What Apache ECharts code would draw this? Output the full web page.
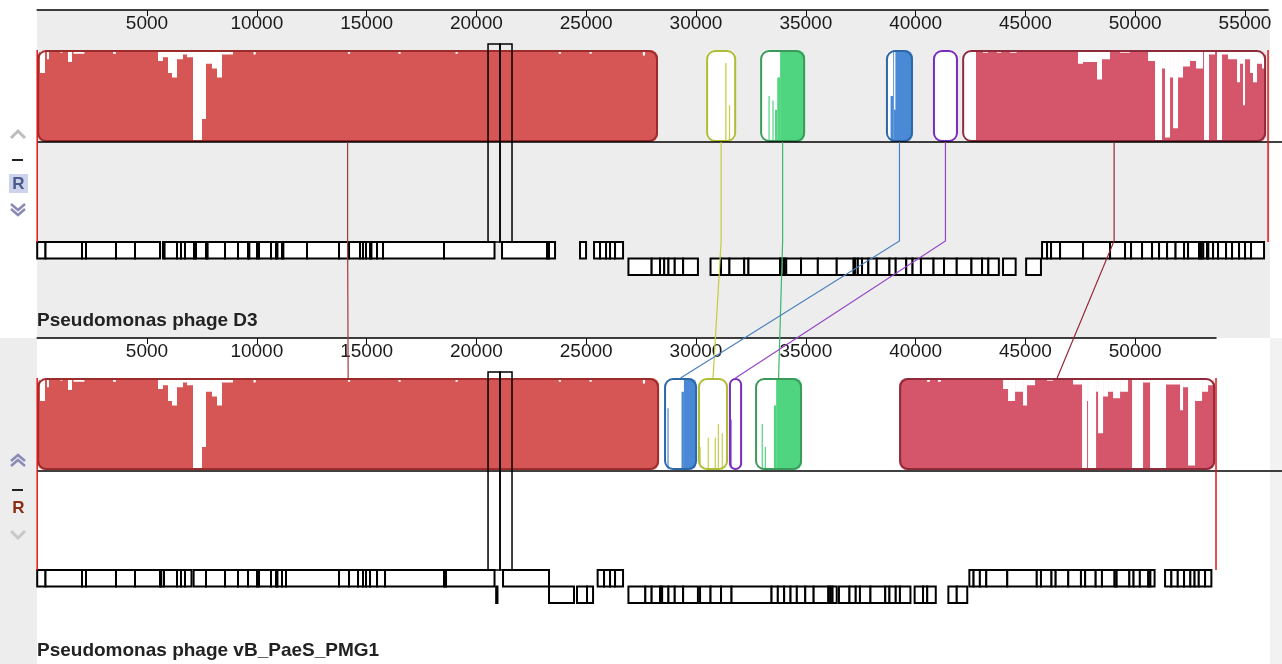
<!DOCTYPE html>
<html><head><meta charset="utf-8">
<script src="https://cdn.jsdelivr.net/npm/echarts@6/dist/echarts.min.js"></script>
<style>html,body{margin:0;padding:0;background:#fff}#c{width:1282px;height:664px}</style>
</head><body><div id="c"></div>
<script>
// ---------------- DATA ----------------
const genomeNames = ['Pseudomonas phage D3', 'Pseudomonas phage vB_PaeS_PMG1'];
const genomeLengths = [56050, 53680];
const tickLabelsTop = [5000,10000,15000,20000,25000,30000,35000,40000,45000,50000,55000];
const tickLabelsBottom = [5000,10000,15000,20000,25000,30000,35000,40000,45000,50000];

// LCB order: red, yellow, green, blue, purple, pink  ([start, end] in bp)
const lcbTop    = [[0,28270],[30460,31830],[32920,34970],[38650,39880],[40790,41930],[42120,55960]];
const lcbBottom = [[0,28320],[30090,31460],[32690,34830],[28545,30050],[31500,32100],[39250,53640]];

// similarity profile: coloured segments [from, to, level]
const redTopFill     = [[0,28270,1]];
const yellowTopFill  = [[31330,31390,0.86],[31500,31550,0.4]];
const greenTopFill   = [[33300,33350,0.5],[33480,33530,0.45],[33600,33700,0.35],[33700,33830,0.7],[33830,34970,1]];
const blueTopFill    = [[38860,38980,0.5],[38980,39880,1]];
const purpleTopFill  = [];
const pinkTopFill    = [[42750,55960,1]];
const redBotFill     = [[0,28320,1]];
const yellowBotFill  = [[30160,30200,0.25],[30530,30570,0.35],[30850,30890,0.35],[30990,31030,0.5],[31170,31210,0.4]];
const greenBotFill   = [[32990,33040,0.5],[33130,33170,0.25],[33550,33650,0.7],[33650,34830,1]];
const blueBotFill    = [[28700,28750,0.67],[29340,29450,0.85],[29450,30000,1]];
const purpleBotFill  = [[31570,31620,0.55]];
const pinkBotFill    = [[39250,53640,1]];

// white dips from the top: [from, to, depth]
const redNotches = [
 [128,355,0.25],[446,537,0.1],[1050,1150,0.03],[1403,1585,0.13],[1650,2150,0.04],[3452,3588,0.04],
 [5501,5729,0.12],[5729,5957,0.08],[5957,6139,0.25],[6139,6366,0.3],[6366,6640,0.1],[6640,6822,0.05],[6822,7095,0.08],
 [7095,7505,1.0],[7505,7687,0.75],[7687,7960,0.15],[7960,8188,0.2],[8188,8416,0.3],[8416,8917,0.05],
 [9850,9950,0.05],[14150,14250,0.04],[16450,16550,0.04],[19050,19150,0.04],[23750,23850,0.04],[25150,25250,0.04],[27580,27680,0.06]
];
const blueTopNotches = [[39020,39080,0.65]];
const pinkTopNotches = [
 [43070,43300,0.03],[43700,43900,0.03],[44300,44600,0.03],
 [47396,47624,0.15],[47624,48262,0.13],[48262,48489,0.32],[48489,48854,0.1],[49309,49765,0.03],
 [50584,50903,0.12],[50903,51222,1.0],[51222,51359,0.2],[51359,51586,0.95],[51586,51723,0.3],[51723,51951,0.85],
 [51951,52178,0.3],[52178,52497,0.18],[52497,52770,0.12],[52770,53089,0.2],[53135,53362,1.0],[53362,53635,0.05],
 [53726,53954,1.0],[53954,54227,0.05],[54227,54637,0.1],[54637,54774,0.35],[54774,54910,0.15],[54910,55001,0.6],
 [55001,55229,0.1],[55229,55365,0.25],[55365,55548,0.35],[55548,55775,0.15],[55775,55912,0.2]
];
const pinkBotNotches = [
 [40521,40650,0.04],[41022,41150,0.04],
 [43983,44210,0.12],[44210,44529,0.25],[44529,44893,0.15],[44893,45075,0.3],[45075,45440,0.08],[45986,46260,0.03],
 [47170,47580,0.07],[47580,47808,1.0],[47808,47853,0.25],[47853,48218,1.0],[48218,48309,0.15],[48309,48537,0.6],
 [48537,48764,0.2],[48764,48992,0.15],[48992,49311,0.22],[49311,49675,0.15],[49857,50358,1.0],[50358,50677,0.05],
 [50677,51405,1.0],[51405,52043,0.07],[52043,52180,0.35],[52180,52407,0.1],[52407,52726,0.95],[52726,53045,0.25],
 [53045,53318,0.15],[53318,53550,0.08]
];

// gene annotation runs (adjacent boxes share boundaries), bp
const genesTopFwd = [
 [0,378,2040,2222,3588,4454,5592],
 [5729,5800,6366,6548,6730,7140,7231,7687,7760,8553,9144,9600,9660,10010,10101,10647,10875,10940,11148,11210,12287,13744,14200,14701,14837,14974,15156,15220,15475,15748,18526,20825],
 [21167,23216,23307,23581],
 [24719,24993],
 [25357,25630,25904,26086,26314,26678],
 [45758,45986,46168,46578,47625,48855,49538,49811,50312,50767,51086,51451,51838,52225,52407,52908,52960,52999,53100,53272,53330,53546,53773,54137,54410,54729,55002,55275,55867]
];
const genesTopRev = [
 [26923,27980,28362,28553,28745,29032,29414,30088],
 [30662,31140,31522,32196,32388,33827,33900,34009,34109,34783,35548,36409,37178,37250,37370,37561,37848,38230,38809,39095,39574,39861,40243,40817,41295,41874,42543,43026,43313,43791],
 [43982,44556],
 [45034,45708]
];
const genesBotFwd = [
 [0,378,2040,2222,3588,4454,5592,5650,5775,6366,6548,6730,7027],
 [7123,7687,8553,9144,9600,10010,10101,10647,10875,10940,11148,11330,13744,14200,14610,14837,14974,15156,15475,15840,18526,18617,20825],
 [21213,23307],
 [25521,25813,26086,26314,26678],
 [42448,42640,42927,43218,44174,45518,45709,46187,46378,46952,47530,47721,48200,48486,49060,49156,49734,49925,50212,50595,50691,50882],
 [51360,51647,51939,52225,52512,52704,52895,53182,53469]
];
const genesBotRev = [
 [20900,20960],
 [23307,24445],
 [24582,25038,25312],
 [26923,27693,27980,28362,28458,28745,29032,29414,30088],
 [30184,30662,31140,31618,33440,33727,34014,34305,34592,34975,35357,36027,36123,36218,36409],
 [36510,36988,37274,37466,37944,38618,38809,39096,39287,39765],
 [39956,40339,40530,40918],
 [41492,41874,42352]
];
const highlightTop = [[20530,21076],[21076,21622]];
const highlightBottom = [[20530,21076],[21076,21622]];

// ---------------- STYLE / LAYOUT ----------------
const LCB_COLORS = [
 {fill:'#d65656', stroke:'#9c2b2b', line:'#a33a3a'},
 {fill:'#c6cf4a', stroke:'#aebd34', line:'#c4cd3c'},
 {fill:'#4fd47f', stroke:'#3a9a5a', line:'#3fb56c'},
 {fill:'#4a89d5', stroke:'#2e67a6', line:'#4a7fbf'},
 {fill:'#9050d0', stroke:'#7a2cbd', line:'#9446c6'},
 {fill:'#d5556b', stroke:'#8e2b3b', line:'#962838'}
];
const FILLS = [[redTopFill,yellowTopFill,greenTopFill,blueTopFill,purpleTopFill,pinkTopFill],
               [redBotFill,yellowBotFill,greenBotFill,blueBotFill,purpleBotFill,pinkBotFill]];
const NOTCHES = [[redNotches,[],[],blueTopNotches,[],pinkTopNotches],
                 [redNotches,[],[],[],[],pinkBotNotches]];
const PXBP = 0.02196, LEFT = 37.2;
const BLOCK_TOP = [50, 378], BLOCK_H = 92;
const FONT = "'Liberation Sans', Arial, sans-serif";

function blockRender(g){
  return function(params, api){
    const s = api.value(0), e = api.value(1), i = api.value(2);
    const p0 = api.coord([s,1]), p1 = api.coord([e,0]);
    const x0 = p0[0], y0 = p0[1], w = p1[0]-x0, h = p1[1]-y0;
    const col = LCB_COLORS[i];
    const inner = [{type:'rect', shape:{x:x0,y:y0,width:w,height:h}, style:{fill:'#ffffff'}}];
    FILLS[g][i].forEach(f => {
      const a = api.coord([f[0], f[2]]), b = api.coord([f[1], 0]);
      inner.push({type:'rect', shape:{x:a[0], y:a[1], width:Math.max(b[0]-a[0],1.2), height:b[1]-a[1]}, style:{fill:col.fill}});
    });
    NOTCHES[g][i].forEach(n => {
      const a = api.coord([n[0], 1]), b = api.coord([n[1], 1-n[2]]);
      inner.push({type:'rect', shape:{x:a[0], y:a[1], width:Math.max(b[0]-a[0],1.2), height:b[1]-a[1]}, style:{fill:'#ffffff'}});
    });
    return {type:'group', children:[
      {type:'group', children: inner, clipPath:{type:'rect', shape:{x:x0, y:y0, width:w, height:h, r:8}}},
      {type:'rect', shape:{x:x0+1, y:y0+1, width:w-2, height:h-2, r:8}, style:{fill:'none', stroke:col.stroke, lineWidth:2}}
    ]};
  };
}
function geneRender(params, api){
  const s = api.value(0), e = api.value(1), strand = api.value(2);
  const a = api.coord([s,0]), b = api.coord([e,0]);
  const y = a[1] + 100 + strand*16.5;
  return {type:'rect', shape:{x:a[0], y:y, width:Math.max(b[0]-a[0],1), height:16.5},
          style:{fill:'#ffffff', stroke:'#000', lineWidth:2}};
}
function markRender(params, api){
  const s = api.value(0), e = api.value(1);
  const a = api.coord([s,1]), b = api.coord([e,0]);
  return {type:'rect', shape:{x:a[0], y:a[1]-6, width:b[0]-a[0], height:(b[1]-a[1])+106},
          style:{fill:'none', stroke:'#000', lineWidth:1.5}};
}
function endRender(params, api){
  const v = api.value(0);
  const a = api.coord([v,1]), b = api.coord([v,0]);
  return {type:'line', shape:{x1:a[0], y1:a[1], x2:a[0], y2:b[1]+100}, style:{stroke:'#e01818', lineWidth:1.5}};
}
function flatten(runs, strand){
  const out = [];
  runs.forEach(r => { for (let k=0;k<r.length-1;k++) out.push([r[k], r[k+1], strand]); });
  return out;
}

const chart = echarts.init(document.getElementById('c'), null, {renderer:'canvas'});

function xAxisCfg(g, ticks){
  return {gridIndex:g, type:'value', min:0, max:genomeLengths[g], position:'top', offset:40,
    axisLine:{show:true, onZero:false, lineStyle:{color:'#000', width:1.5}},
    axisTick:{show:true, inside:true, length:6, customValues:ticks, lineStyle:{color:'#000', width:1}},
    axisLabel:{show:true, inside:true, margin:4, customValues:ticks, color:'#1a1a1a', fontSize:19, fontFamily:FONT,
               formatter: v => String(v)},
    splitLine:{show:false}};
}

function baseGraphics(){
  const G = [];
  G.push({type:'rect', id:'bgTop', z:-10, shape:{x:37, y:10, width:1233, height:328}, style:{fill:'#ededed'}});
  G.push({type:'rect', id:'bgLeftBot', z:-10, shape:{x:0, y:338, width:37, height:326}, style:{fill:'#ededed'}});
  G.push({type:'rect', id:'bgRightBot', z:-10, shape:{x:1270, y:338, width:12, height:326}, style:{fill:'#f2f2f2'}});
  G.push({type:'line', id:'cTop', z:5, shape:{x1:37, y1:142, x2:1282, y2:142}, style:{stroke:'#000', lineWidth:1.5}});
  G.push({type:'line', id:'cBot', z:5, shape:{x1:37, y1:471, x2:1282, y2:471}, style:{stroke:'#000', lineWidth:1.5}});
  G.push({type:'text', id:'n0', z:5, style:{x:37, y:321, text:genomeNames[0], font:"bold 19px 'Liberation Sans', Arial", fill:'#222', verticalAlign:'middle'}});
  G.push({type:'text', id:'n1', z:5, style:{x:37, y:651, text:genomeNames[1], font:"bold 19px 'Liberation Sans', Arial", fill:'#222', verticalAlign:'middle'}});
  // left controls, top panel
  G.push({type:'polyline', id:'tu', shape:{points:[[11,138],[18,131],[25,138]]}, style:{stroke:'#bdbdbd', lineWidth:3, fill:'none'}});
  G.push({type:'line', id:'tm', shape:{x1:12, y1:160, x2:23, y2:160}, style:{stroke:'#222', lineWidth:2}});
  G.push({type:'rect', id:'trb', shape:{x:9, y:174, width:19, height:19}, style:{fill:'#cdd3ea'}});
  G.push({type:'text', id:'tr', style:{x:18.5, y:184, text:'R', font:"bold 17px 'Liberation Sans', Arial", fill:'#4b5b8d', align:'center', verticalAlign:'middle'}});
  G.push({type:'polyline', id:'td1', shape:{points:[[11,204],[18,210],[25,204]]}, style:{stroke:'#8a8ab6', lineWidth:2.5, fill:'none'}});
  G.push({type:'polyline', id:'td2', shape:{points:[[11,209],[18,215],[25,209]]}, style:{stroke:'#8a8ab6', lineWidth:2.5, fill:'none'}});
  // left controls, bottom panel
  G.push({type:'polyline', id:'bu1', shape:{points:[[11,461],[18,455],[25,461]]}, style:{stroke:'#8a8ab6', lineWidth:2.5, fill:'none'}});
  G.push({type:'polyline', id:'bu2', shape:{points:[[11,466],[18,460],[25,466]]}, style:{stroke:'#8a8ab6', lineWidth:2.5, fill:'none'}});
  G.push({type:'line', id:'bm', shape:{x1:12, y1:490, x2:23, y2:490}, style:{stroke:'#222', lineWidth:2}});
  G.push({type:'text', id:'br', style:{x:18.5, y:508, text:'R', font:"bold 17px 'Liberation Sans', Arial", fill:'#8c2e12', align:'center', verticalAlign:'middle'}});
  G.push({type:'polyline', id:'bd', shape:{points:[[11,531],[18,538],[25,531]]}, style:{stroke:'#c8c8c8', lineWidth:3, fill:'none'}});
  return G;
}

const option = {
  animation:false,
  backgroundColor:'#ffffff',
  grid:[
    {left:LEFT, top:BLOCK_TOP[0], width:genomeLengths[0]*PXBP, height:BLOCK_H},
    {left:LEFT, top:BLOCK_TOP[1], width:genomeLengths[1]*PXBP, height:BLOCK_H}
  ],
  xAxis:[xAxisCfg(0, tickLabelsTop), xAxisCfg(1, tickLabelsBottom)],
  yAxis:[{gridIndex:0, type:'value', min:0, max:1, show:false},
         {gridIndex:1, type:'value', min:0, max:1, show:false}],
  graphic: baseGraphics(),
  series:[
    {type:'custom', xAxisIndex:0, yAxisIndex:0, z:3, renderItem:geneRender, data:flatten(genesTopFwd,0).concat(flatten(genesTopRev,1))},
    {type:'custom', xAxisIndex:1, yAxisIndex:1, z:3, renderItem:geneRender, data:flatten(genesBotFwd,0).concat(flatten(genesBotRev,1))},
    {type:'custom', xAxisIndex:0, yAxisIndex:0, z:4, renderItem:blockRender(0), data:lcbTop.map((b,i)=>[b[0],b[1],i])},
    {type:'custom', xAxisIndex:1, yAxisIndex:1, z:4, renderItem:blockRender(1), data:lcbBottom.map((b,i)=>[b[0],b[1],i])},
    {type:'custom', xAxisIndex:0, yAxisIndex:0, z:6, renderItem:markRender, data:highlightTop},
    {type:'custom', xAxisIndex:1, yAxisIndex:1, z:6, renderItem:markRender, data:highlightBottom},
    {type:'custom', xAxisIndex:0, yAxisIndex:0, z:6, renderItem:endRender, data:[[0],[genomeLengths[0]]]},
    {type:'custom', xAxisIndex:1, yAxisIndex:1, z:6, renderItem:endRender, data:[[0],[genomeLengths[1]]]}
  ]
};
chart.setOption(option);

// connecting lines between homologous LCBs, positioned through both x axes
const G = baseGraphics();
lcbTop.forEach((b, i) => {
  const xt = chart.convertToPixel({xAxisIndex:0}, (b[0]+b[1])/2);
  const bb = lcbBottom[i];
  const xb = chart.convertToPixel({xAxisIndex:1}, (bb[0]+bb[1])/2);
  const yt = chart.convertToPixel({yAxisIndex:0}, 0);
  const yb = chart.convertToPixel({yAxisIndex:1}, 1);
  G.push({type:'polyline', id:'lk'+i, z:50, shape:{points:[[xt,yt],[xt,yt+99],[xb,yb]]},
          style:{stroke:LCB_COLORS[i].line, lineWidth:1.2, fill:'none'}});
});
chart.setOption({graphic:G}, {replaceMerge:['graphic']});
</script></body></html>
